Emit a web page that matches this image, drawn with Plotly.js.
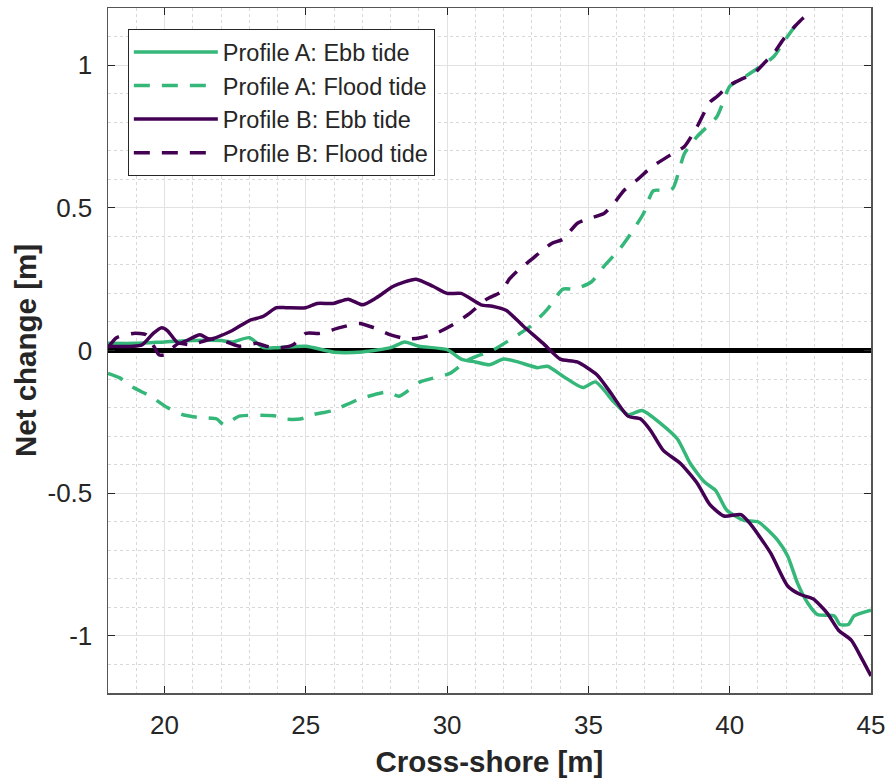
<!DOCTYPE html>
<html>
<head>
<meta charset="utf-8">
<script src="https://cdn.plot.ly/plotly-3.0.1.min.js"></script>
<style>html,body{margin:0;padding:0;background:#fff;}#chart{width:888px;height:778px;}</style>
</head>
<body>
<div id="chart"></div>
<script>
// Profile A: Ebb tide
const xAEbb = [18, 19, 20, 21, 22, 22.4, 23.0, 23.5, 24, 25, 26, 27, 28, 28.5, 29, 30, 30.5, 31, 31.5, 32, 32.5, 33.2, 33.55, 34.1, 34.8, 35.25, 35.9, 36.4, 36.9, 37.55, 38.15, 38.6, 39.1, 39.5, 39.9, 40.5, 41.0, 41.7, 42.05, 42.4, 42.76, 43.1, 43.7, 43.9, 44.2, 44.4, 45];
const yAEbb = [0.025, 0.025, 0.03, 0.035, 0.035, 0.03, 0.045, 0.01, 0.01, 0.015, -0.006, -0.005, 0.01, 0.03, 0.015, 0.003, -0.03, -0.04, -0.05, -0.03, -0.04, -0.06, -0.055, -0.09, -0.13, -0.11, -0.18, -0.225, -0.21, -0.255, -0.31, -0.395, -0.46, -0.49, -0.56, -0.595, -0.6, -0.665, -0.72, -0.815, -0.885, -0.925, -0.93, -0.96, -0.96, -0.93, -0.91];
// Profile A: Flood tide
const xAFlood = [18, 18.4, 18.9, 19.5, 20.1, 20.65, 21.25, 21.85, 22.1, 22.65, 23.95, 24.2, 24.8, 25.25, 25.97, 26.9, 27.9, 28.3, 29.05, 30.1, 30.7, 31.05, 31.6, 32.5, 32.95, 33.55, 34.1, 34.5, 35.1, 35.55, 36.1, 36.4, 36.95, 37.3, 37.8, 38.0, 38.4, 38.85, 39.55, 40.0, 40.4, 41.0, 41.56, 41.9, 42.3, 42.5];
const yAFlood = [-0.08, -0.095, -0.13, -0.16, -0.2, -0.225, -0.235, -0.24, -0.26, -0.23, -0.23, -0.24, -0.24, -0.225, -0.21, -0.17, -0.145, -0.16, -0.11, -0.08, -0.035, -0.02, 0.0, 0.055, 0.085, 0.145, 0.215, 0.215, 0.24, 0.295, 0.355, 0.395, 0.48, 0.56, 0.56, 0.57, 0.69, 0.75, 0.82, 0.925, 0.95, 0.99, 1.03, 1.08, 1.135, 1.165];
// Profile B: Ebb tide
const xBEbb = [18, 19.2, 19.6, 19.9, 20.1, 20.5, 21.25, 21.6, 22.4, 23.0, 23.5, 23.96, 24.3, 25.0, 25.4, 25.97, 26.5, 27.0, 27.5, 28.1, 28.9, 29.5, 30.0, 30.5, 31.2, 31.6, 32.1, 32.7, 33.4, 34.0, 34.6, 35.3, 35.8, 36.4, 36.85, 37.2, 37.65, 38.25, 38.85, 39.3, 39.8, 40.4, 40.75, 41.45, 42.05, 42.5, 42.95, 43.45, 43.85, 44.3, 44.65, 45];
const yBEbb = [0.014, 0.02, 0.06, 0.08, 0.07, 0.025, 0.055, 0.04, 0.07, 0.105, 0.12, 0.15, 0.15, 0.15, 0.165, 0.165, 0.18, 0.16, 0.185, 0.225, 0.25, 0.225, 0.2, 0.2, 0.16, 0.155, 0.14, 0.085, 0.025, -0.03, -0.04, -0.085, -0.15, -0.23, -0.24, -0.28, -0.35, -0.395, -0.465, -0.54, -0.58, -0.575, -0.61, -0.71, -0.825, -0.855, -0.87, -0.92, -0.98, -1.015, -1.075, -1.14];
// Profile B: Flood tide
const xBFlood = [18, 18.3, 18.9, 19.35, 19.65, 19.8, 20.0, 20.5, 20.9, 21.7, 22.2, 22.65, 23.25, 23.6, 24.1, 24.55, 25.0, 25.5, 26.2, 26.9, 27.4, 28.0, 28.6, 29.05, 29.6, 30.2, 30.8, 31.4, 31.9, 32.2, 32.5, 33.0, 33.3, 33.7, 34.1, 34.6, 34.95, 35.55, 35.9, 36.25, 36.75, 37.2, 37.9, 38.4, 38.85, 39.3, 39.55, 40.0, 40.4, 40.85, 41.2, 41.55, 41.9, 42.3, 42.6, 42.8];
const yBFlood = [0.01, 0.045, 0.06, 0.055, 0.01, -0.015, -0.015, 0.025, 0.02, 0.04, 0.03, 0.015, 0.025, 0.015, 0.01, 0.02, 0.06, 0.06, 0.08, 0.095, 0.08, 0.055, 0.04, 0.045, 0.06, 0.09, 0.13, 0.18, 0.205, 0.25, 0.28, 0.32, 0.345, 0.375, 0.39, 0.445, 0.46, 0.48, 0.515, 0.56, 0.6, 0.64, 0.685, 0.715, 0.785, 0.87, 0.89, 0.93, 0.95, 0.97, 1.005, 1.04, 1.09, 1.135, 1.165, 1.18];

const seriesNames = ["Profile A: Ebb tide", "Profile A: Flood tide", "Profile B: Ebb tide", "Profile B: Flood tide"];
const xTicks = [20, 25, 30, 35, 40, 45];
const yTicks = [-1, -0.5, 0, 0.5, 1];
const yTickLabels = ["-1", "-0.5", "0", "0.5", "1"];

const green = "#35b779";
const purple = "#440154";
const dashPat = "16px,12px";
const FONT = "Liberation Sans, Arial, Helvetica, sans-serif";

const traces = [
  {x: xAEbb, y: yAEbb, name: seriesNames[0], mode: "lines", line: {color: green, width: 3.5, shape: "spline", smoothing: 0.6}},
  {x: xAFlood, y: yAFlood, name: seriesNames[1], mode: "lines", line: {color: green, width: 3.5, dash: dashPat, shape: "spline", smoothing: 0.6}},
  {x: xBEbb, y: yBEbb, name: seriesNames[2], mode: "lines", line: {color: purple, width: 3.5, shape: "spline", smoothing: 0.6}},
  {x: xBFlood, y: yBFlood, name: seriesNames[3], mode: "lines", line: {color: purple, width: 3.5, dash: dashPat, shape: "spline", smoothing: 0.6}}
];

const tickFont = {family: FONT, size: 26, color: "#262626"};

const layout = {
  width: 888, height: 778,
  margin: {l: 108, r: 17, t: 7.5, b: 85},
  paper_bgcolor: "#ffffff",
  plot_bgcolor: "#ffffff",
  showlegend: true,
  legend: {
    x: 0.026, y: 0.969, xanchor: "left", yanchor: "top",
    bgcolor: "#ffffff", bordercolor: "#262626", borderwidth: 1,
    font: {family: FONT, size: 23.5, color: "#262626"},
    tracegroupgap: 0, itemwidth: 84
  },
  xaxis: {
    range: [18, 45], tickmode: "array", tickvals: xTicks,
    ticks: "inside", ticklen: 7, tickcolor: "#262626", tickwidth: 1,
    showline: true, linecolor: "#555555", linewidth: 1.5, mirror: "ticks",
    showgrid: true, gridcolor: "#e2e2e2", gridwidth: 1,
    minor: {dtick: 1, showgrid: true, gridcolor: "#d8d8d8", griddash: "dot", gridwidth: 1, ticks: ""},
    zeroline: false,
    tickfont: tickFont, ticklabelstandoff: 8,
    title: {text: "<b>Cross-shore [m]</b>", font: {family: FONT, size: 29.5, color: "#262626"}, standoff: 17}
  },
  yaxis: {
    range: [-1.2, 1.2], tickmode: "array", tickvals: yTicks, ticktext: yTickLabels,
    ticks: "inside", ticklen: 7, tickcolor: "#262626", tickwidth: 1,
    showline: true, linecolor: "#555555", linewidth: 1.5, mirror: "ticks",
    showgrid: true, gridcolor: "#e2e2e2", gridwidth: 1,
    minor: {dtick: 0.1, showgrid: true, gridcolor: "#d8d8d8", griddash: "dot", gridwidth: 1, ticks: ""},
    zeroline: true, zerolinecolor: "#000000", zerolinewidth: 5.5,
    tickfont: tickFont, ticklabelstandoff: 9,
    title: {text: "<b>Net change [m]</b>", font: {family: FONT, size: 29.5, color: "#262626"}, standoff: 2}
  }
};

Plotly.newPlot("chart", traces, layout, {displayModeBar: false, staticPlot: true});
</script>
</body>
</html>
